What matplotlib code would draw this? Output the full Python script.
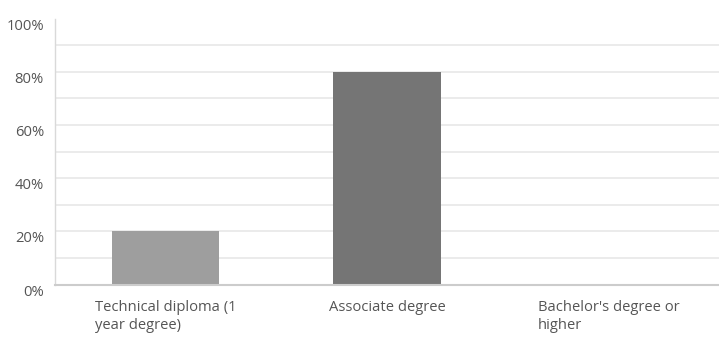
import matplotlib
matplotlib.use("Agg")
import matplotlib.pyplot as plt
from matplotlib.ticker import MultipleLocator, FuncFormatter

categories = ["Technical diploma (1\nyear degree)", "Associate degree", "Bachelor's degree or\nhigher"]
values = [20, 80, 0]
bar_colors = ["#9e9e9e", "#757575", "#bdbdbd"]

plt.rcParams["font.family"] = ["Open Sans", "DejaVu Sans"]

fig = plt.figure(figsize=(7.19, 3.39), dpi=100)
ax = fig.add_axes([55 / 719, 1 - 284.5 / 339, (719 - 55) / 719, 266 / 339])

x = range(len(categories))
ax.bar(x, values, width=0.485, color=bar_colors, zorder=3)

ax.set_xlim(-0.5, len(categories) - 0.5)
ax.set_ylim(0, 100)
ax.yaxis.set_major_locator(MultipleLocator(20))
ax.yaxis.set_major_formatter(FuncFormatter(lambda v, p: f"{v:.0f}%"))

# light gridlines every 10%
for y in range(10, 100, 10):
    ax.axhline(y, color="#e8e8e8", linewidth=1.2, zorder=1)

for side in ["top", "right"]:
    ax.spines[side].set_visible(False)
ax.spines["left"].set_color("#d9d9d9")
ax.spines["left"].set_linewidth(1.0)
ax.spines["bottom"].set_color("#cccccc")
ax.spines["bottom"].set_linewidth(1.5)
ax.spines["bottom"].set_zorder(4)

ax.set_xticks(list(x))
ax.set_xticklabels(categories, multialignment="left", fontsize=10.6, color="#555555", linespacing=1.25)
ax.tick_params(axis="x", length=0, pad=11)
ax.tick_params(axis="y", length=0, pad=8, labelsize=10.6, labelcolor="#555555")
for lbl in ax.get_yticklabels():
    lbl.set_verticalalignment("top")

plt.savefig("out.png", dpi=100)
